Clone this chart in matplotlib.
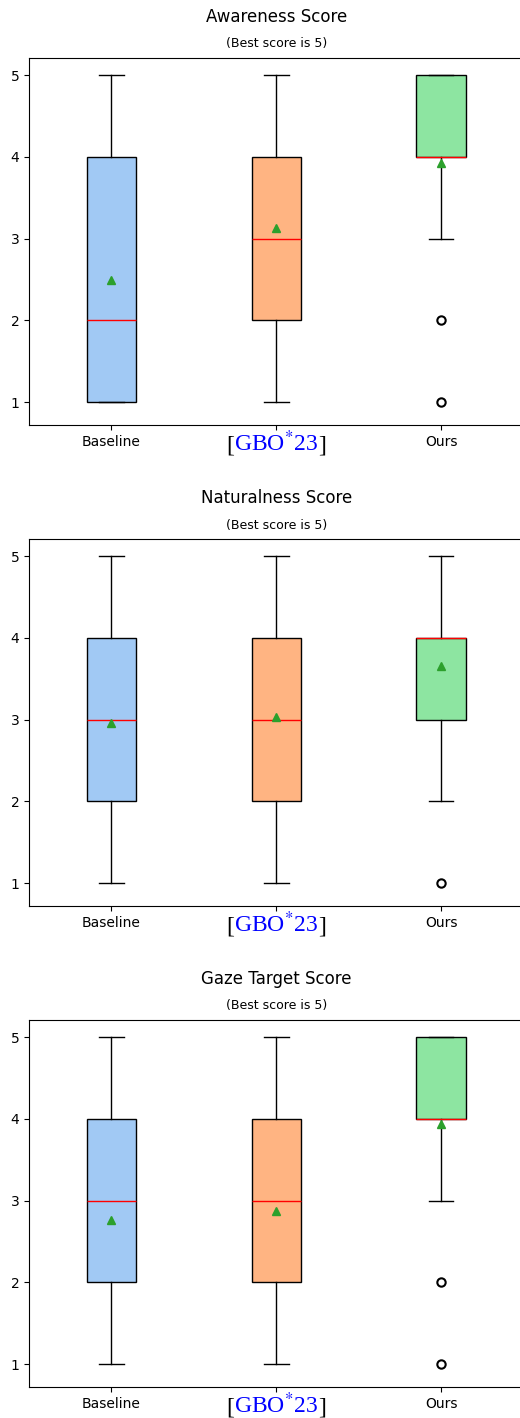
import matplotlib
matplotlib.use("Agg")
import matplotlib.pyplot as plt
from matplotlib.offsetbox import TextArea, HPacker, AnnotationBbox

plt.rcParams['mathtext.fontset'] = 'stix'

# box statistics (q1, median, q3, whiskers, mean, outliers)
titles = ["Awareness Score", "Naturalness Score", "Gaze Target Score"]
methods = ["Baseline", "GBO", "Ours"]
colors = ['#a1c9f4', '#ffb482', '#8de5a1']

q1 = [[1, 2, 4], [2, 2, 3], [2, 2, 4]]
medians = [[2, 3, 4], [3, 3, 4], [3, 3, 4]]
q3 = [[4, 4, 5], [4, 4, 4], [4, 4, 5]]
whislo = [[1, 1, 3], [1, 1, 2], [1, 1, 3]]
whishi = [[5, 5, 5], [5, 5, 5], [5, 5, 5]]
means = [[2.50, 3.13, 3.93], [2.96, 3.03, 3.66], [2.76, 2.87, 3.94]]
fliers = [[[], [], [2, 1]], [[], [], [1]], [[], [], [2, 1]]]

W, H = 520, 1418
fig = plt.figure(figsize=(W / 100, H / 100), dpi=100)

ax_bottoms = [425, 906, 1387]
ax_h = 367

for i in range(3):
    ax = fig.add_axes([29 / W, (H - ax_bottoms[i]) / H, (523.5 - 29) / W, ax_h / H])
    stats = []
    for j in range(3):
        stats.append(dict(q1=q1[i][j], med=medians[i][j], q3=q3[i][j],
                          whislo=whislo[i][j], whishi=whishi[i][j],
                          mean=means[i][j], fliers=fliers[i][j], label=methods[j]))
    bp = ax.bxp(stats, positions=[1, 2, 3], widths=0.3, patch_artist=True,
                showmeans=True,
                medianprops=dict(color='red'),
                flierprops=dict(marker='o', markerfacecolor='none',
                                markeredgecolor='black', markeredgewidth=1.5,
                                markersize=6))
    for patch, c in zip(bp['boxes'], colors):
        patch.set_facecolor(c)
        patch.set_edgecolor('black')

    ax.set_xlim(0.5, 3.5)
    ax.set_ylim(0.72, 5.21)
    ax.set_yticks([1, 2, 3, 4, 5])
    ax.set_xticks([1, 2, 3])
    ax.set_xticklabels(['Baseline', '', 'Ours'])

    ax.annotate(titles[i], xy=(0.5, 1), xycoords='axes fraction',
                xytext=(0, 41), textcoords='offset pixels',
                ha='center', va='center', fontsize=12)
    ax.annotate("(Best score is 5)", xy=(0.5, 1), xycoords='axes fraction',
                xytext=(0, 14), textcoords='offset pixels',
                ha='center', va='center', fontsize=9)

    # citation label in serif, brackets black and key blue
    fp = dict(fontfamily='Liberation Serif', fontsize=17)
    parts = [TextArea("[", textprops=dict(color='black', **fp)),
             TextArea(r"GBO$^{*}$23", textprops=dict(color='blue', **fp)),
             TextArea("]", textprops=dict(color='black', **fp))]
    pack = HPacker(children=parts, align="baseline", pad=0, sep=0)
    ab = AnnotationBbox(pack, (2, 0), xycoords=ax.get_xaxis_transform(),
                        xybox=(0, -6), boxcoords='offset pixels',
                        box_alignment=(0.5, 1), frameon=False, pad=0)
    ax.add_artist(ab)

fig.savefig("out.png", dpi=100)
